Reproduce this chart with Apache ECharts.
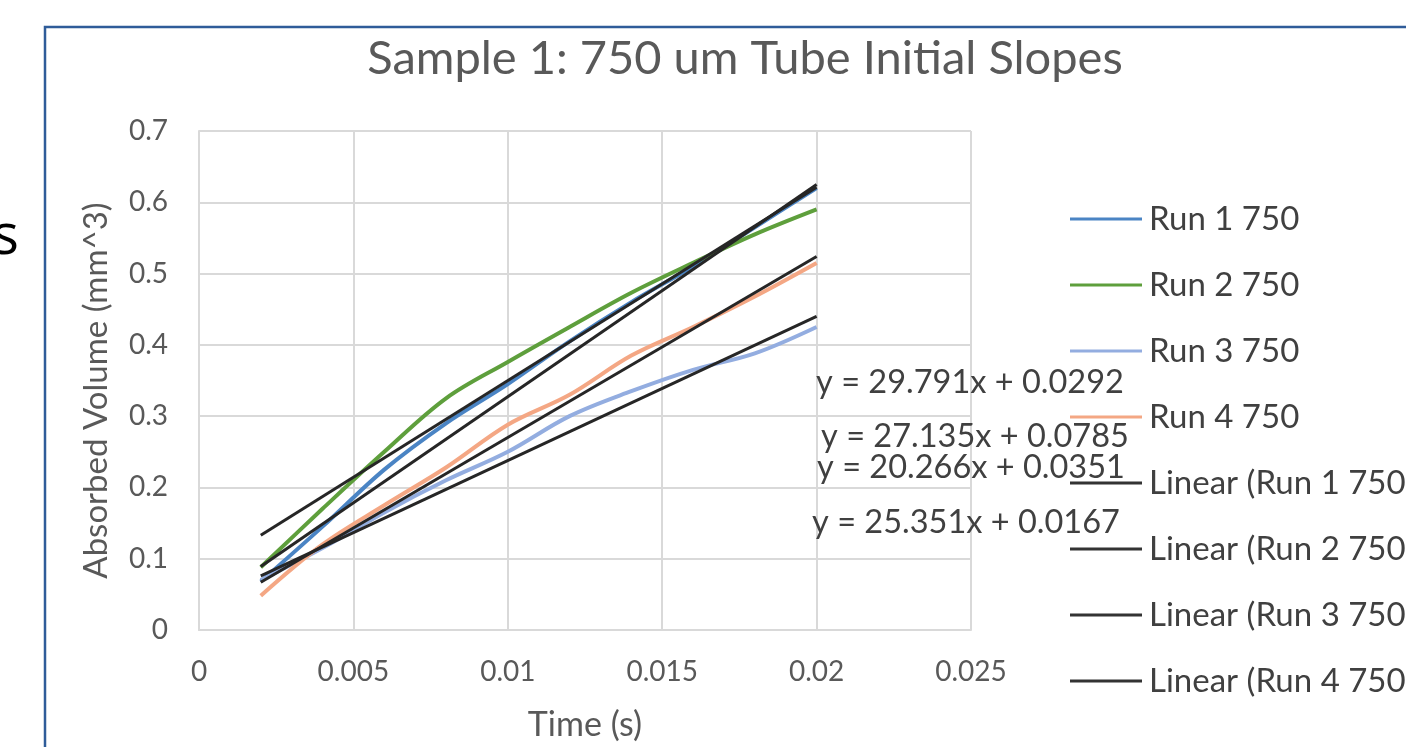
<!DOCTYPE html>
<html>
<head>
<meta charset="utf-8">
<script src="https://cdn.jsdelivr.net/npm/echarts@6/dist/echarts.min.js"></script>
<style>
html,body{margin:0;padding:0;background:#fff;}
#chart{width:1406px;height:747px;}
</style>
</head>
<body>
<div id="chart"></div>
<script>
const times = [0.002, 0.004, 0.006, 0.008, 0.010, 0.012, 0.014, 0.016, 0.018, 0.020];
const run1 = [0.068, 0.145, 0.225, 0.290, 0.345, 0.405, 0.460, 0.510, 0.565, 0.620];
const run2 = [0.088, 0.170, 0.250, 0.325, 0.376, 0.425, 0.473, 0.515, 0.555, 0.590];
const run3 = [0.070, 0.115, 0.165, 0.210, 0.250, 0.300, 0.335, 0.365, 0.388, 0.425];
const run4 = [0.048, 0.120, 0.175, 0.228, 0.288, 0.330, 0.385, 0.425, 0.468, 0.515];
const trendX = [0.002, 0.020];
const trend1 = [0.089, 0.625];
const trend2 = [0.133, 0.621];
const trend3 = [0.076, 0.440];
const trend4 = [0.067, 0.524];
const seriesNames = ['Run 1 750', 'Run 2 750', 'Run 3 750', 'Run 4 750'];
const trendNames = ['Linear (Run 1 750)', 'Linear (Run 2 750)', 'Linear (Run 3 750)', 'Linear (Run 4 750)'];
const equations = ['y = 29.791x + 0.0292', 'y = 27.135x + 0.0785', 'y = 20.266x + 0.0351', 'y = 25.351x + 0.0167'];
const xTicks = [0, 0.005, 0.01, 0.015, 0.02, 0.025];
const yTicks = [0, 0.1, 0.2, 0.3, 0.4, 0.5, 0.6, 0.7];

const FONT = 'Lato';
const colors = ['#4A84C4', '#5E9F3C', '#93ADE0', '#F4A784'];
const pair = (xs, ys) => xs.map((x, i) => [x, ys[i]]);
const runs = [run1, run2, run3, run4];
const trends = [trend1, trend2, trend3, trend4];

const series = [];
runs.forEach((r, i) => {
  series.push({
    name: seriesNames[i], type: 'line', data: pair(times, r), smooth: 0.35,
    symbol: 'none', lineStyle: { color: colors[i], width: 4 }, itemStyle: { color: colors[i] }, z: 2
  });
});
trends.forEach((t, i) => {
  series.push({
    name: trendNames[i], type: 'line', data: pair(trendX, t),
    symbol: 'none', lineStyle: { color: '#262626', width: 3 }, itemStyle: { color: '#333333' }, z: 3
  });
});

const eqPos = [[970, 383], [975, 437], [971, 468], [966, 523]];
const graphics = [
  { type: 'rect', shape: { x: 45, y: 27, width: 1500, height: 900 }, style: { fill: 'none', stroke: '#2F5C99', lineWidth: 2.5 }, z: 10 },
  { type: 'text', style: { text: 's', x: 19, y: 238, textAlign: 'right', textVerticalAlign: 'middle', font: '56px "Open Sans"', fill: '#000' } }
];
equations.forEach((e, i) => {
  graphics.push({ type: 'text', z: 20, style: { text: e, x: eqPos[i][0], y: eqPos[i][1], textAlign: 'center', textVerticalAlign: 'middle', font: '32.5px ' + FONT, fill: '#404040' } });
});

const chart = echarts.init(document.getElementById('chart'));
chart.setOption({
  animation: false,
  backgroundColor: '#fff',
  title: {
    text: 'Sample 1: 750 um Tube Initial Slopes', left: 740, top: 30, textAlign: 'center',
    textStyle: { fontFamily: FONT, fontSize: 47, fontWeight: 'normal', color: '#595959' }
  },
  grid: { left: 199, right: 435, top: 131, bottom: 115 },
  legend: {
    orient: 'vertical', left: 1065, top: 197, itemWidth: 72, itemHeight: 3, itemGap: 32,
    icon: 'rect',
    data: seriesNames.concat(trendNames),
    textStyle: { fontFamily: FONT, fontSize: 33, color: '#404040', lineHeight: 34, padding: [0, 0, 0, 2] }
  },
  xAxis: {
    type: 'value', min: 0, max: 0.025, interval: 0.005,
    name: 'Time (s)', nameLocation: 'middle', nameGap: 78,
    nameTextStyle: { fontFamily: FONT, fontSize: 34, color: '#595959' },
    axisLine: { show: true, lineStyle: { color: '#D9D9D9', width: 2 } },
    axisTick: { show: false },
    splitLine: { show: true, lineStyle: { color: '#D9D9D9', width: 2 } },
    axisLabel: { margin: 28, fontFamily: FONT, fontSize: 28, color: '#595959',
      formatter: v => { const t = xTicks.find(k => Math.abs(k - v) < 1e-9); return t === undefined ? '' : String(t); } }
  },
  yAxis: {
    type: 'value', min: 0, max: 0.7, interval: 0.1,
    name: 'Absorbed Volume (mm^3)', nameLocation: 'middle', nameGap: 86,
    nameTextStyle: { fontFamily: FONT, fontSize: 33, color: '#595959', padding: [0, 20, 0, 0] },
    axisLine: { show: true, lineStyle: { color: '#D9D9D9', width: 2 } },
    axisTick: { show: false },
    splitLine: { show: true, lineStyle: { color: '#D9D9D9', width: 2 } },
    axisLabel: { margin: 31, fontFamily: FONT, fontSize: 28, color: '#595959',
      formatter: v => { const t = yTicks.find(k => Math.abs(k - v) < 1e-9); return t === undefined ? '' : String(t); } }
  },
  graphic: graphics,
  series: series
});
</script>
</body>
</html>
